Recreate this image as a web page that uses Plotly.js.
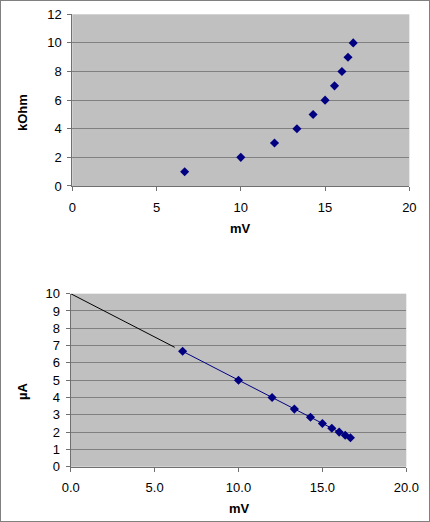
<!DOCTYPE html>
<html>
<head>
<meta charset="utf-8">
<script src="https://cdn.plot.ly/plotly-3.0.1.min.js"></script>
<style>
html,body{margin:0;padding:0;background:#fff;}
#frame{position:absolute;left:0;top:0;width:430px;height:522px;box-sizing:border-box;border:1px solid #808080;}
#chart{position:absolute;left:0;top:0;width:430px;height:522px;}
</style>
</head>
<body>
<div id="chart"></div>
<div id="frame"></div>
<script>
// Data
const mV = [6.67, 10.0, 12.0, 13.33, 14.29, 15.0, 15.56, 16.0, 16.36, 16.67];
const kOhm = [1, 2, 3, 4, 5, 6, 7, 8, 9, 10];
const uA = [6.67, 5.0, 4.0, 3.33, 2.86, 2.5, 2.22, 2.0, 1.82, 1.67];
const trendX = [0, 6.2];
const trendY = [10, 6.9];

const navy = '#000080';
const font = {family: 'Liberation Sans, Arial, sans-serif', size: 13, color: '#000'};

const traces = [
  {x: mV, y: kOhm, xaxis: 'x', yaxis: 'y', mode: 'markers', type: 'scatter',
   marker: {symbol: 'diamond', size: 7, color: navy}},
  {x: trendX, y: trendY, xaxis: 'x2', yaxis: 'y2', mode: 'lines', type: 'scatter',
   line: {color: '#000', width: 1}},
  {x: mV, y: uA, xaxis: 'x2', yaxis: 'y2', mode: 'lines+markers', type: 'scatter',
   line: {color: navy, width: 1}, marker: {symbol: 'diamond', size: 7, color: navy}}
];

const axCommon = {
  showline: true, linecolor: '#707070', linewidth: 1, mirror: false,
  ticks: 'outside', ticklen: 4, tickcolor: '#707070',
  zeroline: false, tickfont: font, fixedrange: true
};

const layout = {
  width: 430, height: 522,
  margin: {l: 0, r: 0, t: 0, b: 0},
  paper_bgcolor: 'rgba(0,0,0,0)',
  plot_bgcolor: '#C0C0C0',
  showlegend: false,
  font: font,
  xaxis: Object.assign({}, axCommon, {domain: [0.168, 0.952], range: [0, 20], dtick: 5, tick0: 0, showgrid: false, anchor: 'y', ticklabelstandoff: 5}),
  yaxis: Object.assign({}, axCommon, {domain: [0.6437, 0.9726], range: [0, 12], dtick: 2, tick0: 0, showgrid: true, gridcolor: '#808080', gridwidth: 1, anchor: 'x', ticklabelstandoff: 3}),
  xaxis2: Object.assign({}, axCommon, {domain: [0.1644, 0.9449], range: [0, 20], dtick: 5, tick0: 0, tickformat: '.1f', showgrid: false, anchor: 'y2', ticklabelstandoff: 5}),
  yaxis2: Object.assign({}, axCommon, {domain: [0.1059, 0.4374], range: [0, 10], dtick: 1, tick0: 0, showgrid: true, gridcolor: '#808080', gridwidth: 1, anchor: 'x2', ticklabelstandoff: 3}),
  annotations: [
    {text: '<b>kOhm</b>', xref: 'paper', yref: 'paper', x: 22/430, y: 1 - 113/522, textangle: -90, showarrow: false, font: font, xanchor: 'center', yanchor: 'middle'},
    {text: '<b>mV</b>', xref: 'paper', yref: 'paper', x: 240/430, y: 1 - 229/522, showarrow: false, font: font, xanchor: 'center', yanchor: 'middle'},
    {text: '<b>µA</b>', xref: 'paper', yref: 'paper', x: 22/430, y: 1 - 392/522, textangle: -90, showarrow: false, font: font, xanchor: 'center', yanchor: 'middle'},
    {text: '<b>mV</b>', xref: 'paper', yref: 'paper', x: 239/430, y: 1 - 508/522, showarrow: false, font: font, xanchor: 'center', yanchor: 'middle'}
  ]
};

Plotly.newPlot('chart', traces, layout, {displayModeBar: false, staticPlot: true});
</script>
</body>
</html>
